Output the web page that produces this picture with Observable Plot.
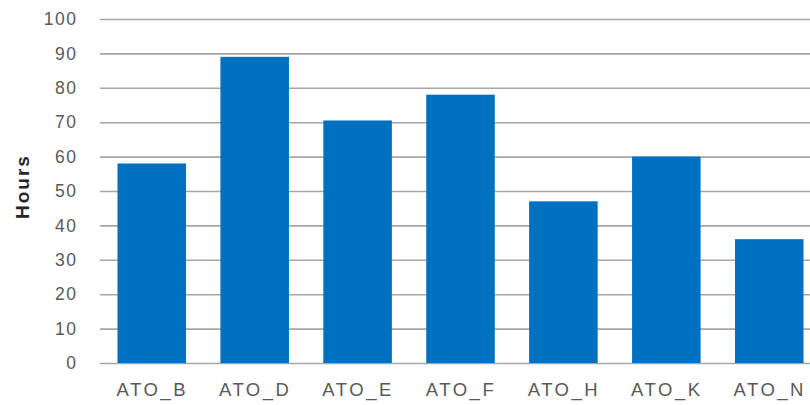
<!DOCTYPE html>
<html>
<head>
<meta charset="utf-8">
<script src="https://cdn.jsdelivr.net/npm/d3@7"></script>
<script src="https://cdn.jsdelivr.net/npm/@observablehq/plot@0.6"></script>
<style>
  html, body { margin: 0; padding: 0; background: #fff; }
  #chart svg { display: block; }
  g[aria-label="x-axis tick label"] text { letter-spacing: 2.5px; }
  g[aria-label="y-axis tick label"] text { letter-spacing: 1.5px; }
  g[aria-label="text"] text { letter-spacing: 2px; }
</style>
</head>
<body>
<div id="chart"></div>
<script>
// Hours per ATO
const categories = ["ATO_B", "ATO_D", "ATO_E", "ATO_F", "ATO_H", "ATO_K", "ATO_N"];
const hours = [58, 89, 70.5, 78, 47, 60, 36];
const yTicks = [0, 10, 20, 30, 40, 50, 60, 70, 80, 90, 100];

const rows = categories.map((c, i) => ({ato: c, hours: hours[i]}));

const chart = Plot.plot({
  width: 810,
  height: 405,
  marginLeft: 100,
  marginRight: 0,
  marginTop: 19,
  marginBottom: 42,
  style: {fontFamily: "'Liberation Sans', Arial, sans-serif", fontSize: "17px", color: "#595959", background: "#fff"},
  x: {domain: categories, range: [100, 821], paddingInner: 0.334, paddingOuter: 0.17, round: false},
  y: {domain: [0, 100]},
  marks: [
    Plot.ruleY(yTicks, {stroke: "#a6a6a6", strokeWidth: 1.6}),
    Plot.barY(rows, {x: "ato", y: "hours", fill: "#0070c0"}),
    Plot.axisX({tickSize: 0, tickPadding: 19, label: null, fontSize: 18.5, fill: "#595959"}),
    Plot.axisY({ticks: yTicks, tickSize: 0, tickPadding: 23, label: null, fontSize: 17.5, fill: "#595959"}),
    Plot.text(["Hours"], {frameAnchor: "left", textAnchor: "middle", rotate: -90, dx: -78, dy: -5, fontWeight: "bold", fontSize: 19, fill: "#262626"})
  ]
});

document.getElementById("chart").append(chart);
</script>
</body>
</html>
